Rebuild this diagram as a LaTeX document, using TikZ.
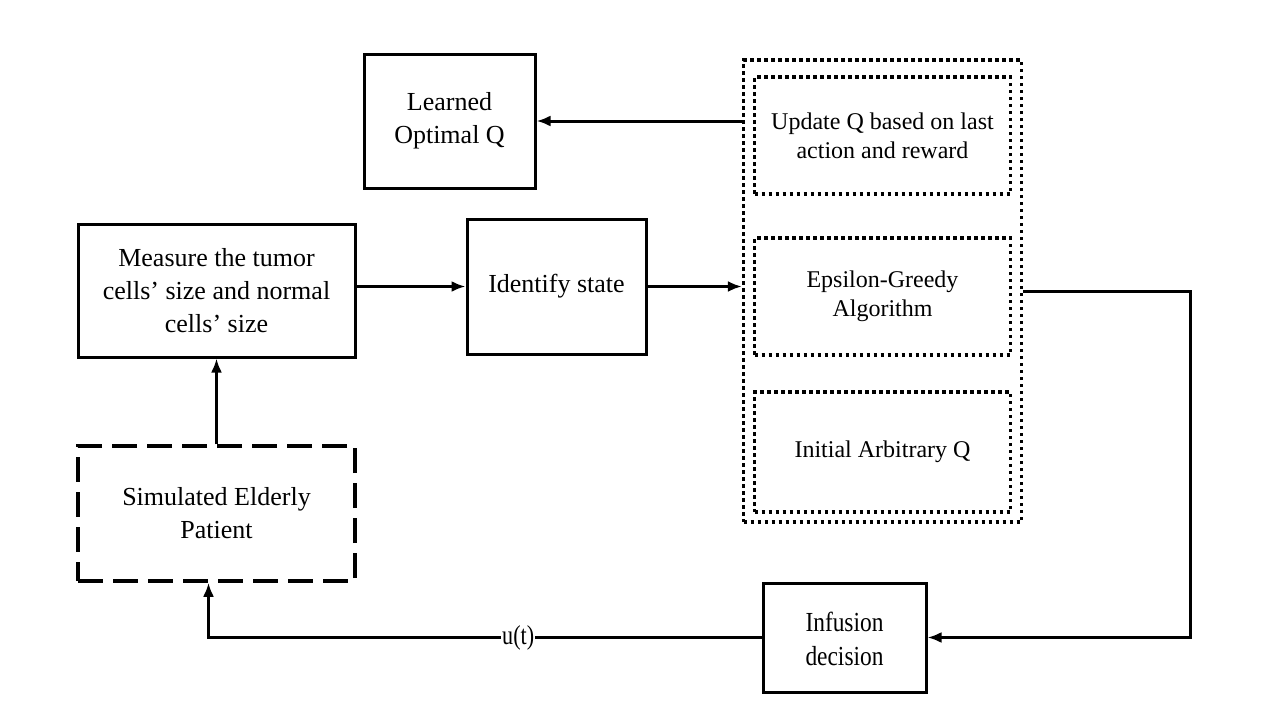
\documentclass[tikz,border=0pt]{standalone}
\usepackage{fontspec}
\setmainfont{Liberation Serif}
\usepackage{tikz}
\usetikzlibrary{arrows.meta}

\tikzset{
  solidbox/.style={shape=rectangle,draw=black,line width=3pt,align=center,inner sep=0pt,font=\fontsize{26}{33}\selectfont},
  dotbox/.style={shape=rectangle,draw=black,line width=3.3pt,dash pattern=on 3.5pt off 3.5pt,align=center,inner sep=0pt,font=\fontsize{24}{29}\selectfont},
  dashbox/.style={shape=rectangle,draw=black,line width=3.5pt,dash pattern=on 25pt off 10pt,align=center,inner sep=0pt,font=\fontsize{26}{33}\selectfont},
  flow/.style={-{Latex[length=14pt,width=11pt]},line width=3pt}
}

\begin{document}
\begin{tikzpicture}[x=1pt,y=-1pt]

\useasboundingbox[fill=white] (0,0) rectangle (1280,720);

% nodes

\node[solidbox, minimum width=171pt, minimum height=134pt] (learned) at (449.5,121) {Learned\\Optimal Q};
\node[dotbox, minimum width=278pt, minimum height=462pt] (qbox) at (882.5,291) {};
\node[dotbox, minimum width=256pt, minimum height=117pt] (update) at (882.5,135.5) {Update Q based on last\\action and reward};
\node[dotbox, minimum width=256pt, minimum height=117pt] (greedy) at (882.5,296.5) {Epsilon-Greedy\\Algorithm};
\node[dotbox, minimum width=256pt, minimum height=120pt] (initial) at (882.5,452) {Initial Arbitrary Q};
\node[solidbox, minimum width=277pt, minimum height=133pt] (measure) at (216.5,290.5) {Measure the tumor\\cells’ size and normal\\cells’ size};
\node[solidbox, minimum width=179pt, minimum height=135pt] (identify) at (556.5,286.5) {Identify state};
\node[dashbox, minimum width=277pt, minimum height=135pt] (patient) at (216.5,513.5) {Simulated Elderly\\Patient};
\node[solidbox, minimum width=163pt, minimum height=109pt, font=\fontsize{26}{32}\selectfont] (infusion) at (844.5,637.5) {\raisebox{-4pt}[\height][\depth]{\scalebox{0.9}[1.06]{\begin{tabular}{@{}c@{}}Infusion\\decision\end{tabular}}}};

\coordinate (turn) at (1190,637.5);

%% arrows

\draw[flow] (measure.east |- identify.west) -- (identify.west);
\draw[flow] (identify.east) -- (identify.east -| qbox.west);
\draw[flow] (learned.east -| qbox.west) -- (learned.east);
\draw[flow] (qbox.east) -| (turn) -- (infusion.east);
\draw[flow] (patient.north) -- (measure.south);
\draw[flow] (infusion.west) -| ([xshift=-8pt]patient.south)
  node[pos=0.22, fill=white, inner sep=1pt, font=\fontsize{26}{26}\selectfont] (ut) {\scalebox{0.85}[1.05]{u(t)}};

\end{tikzpicture}
\end{document}
